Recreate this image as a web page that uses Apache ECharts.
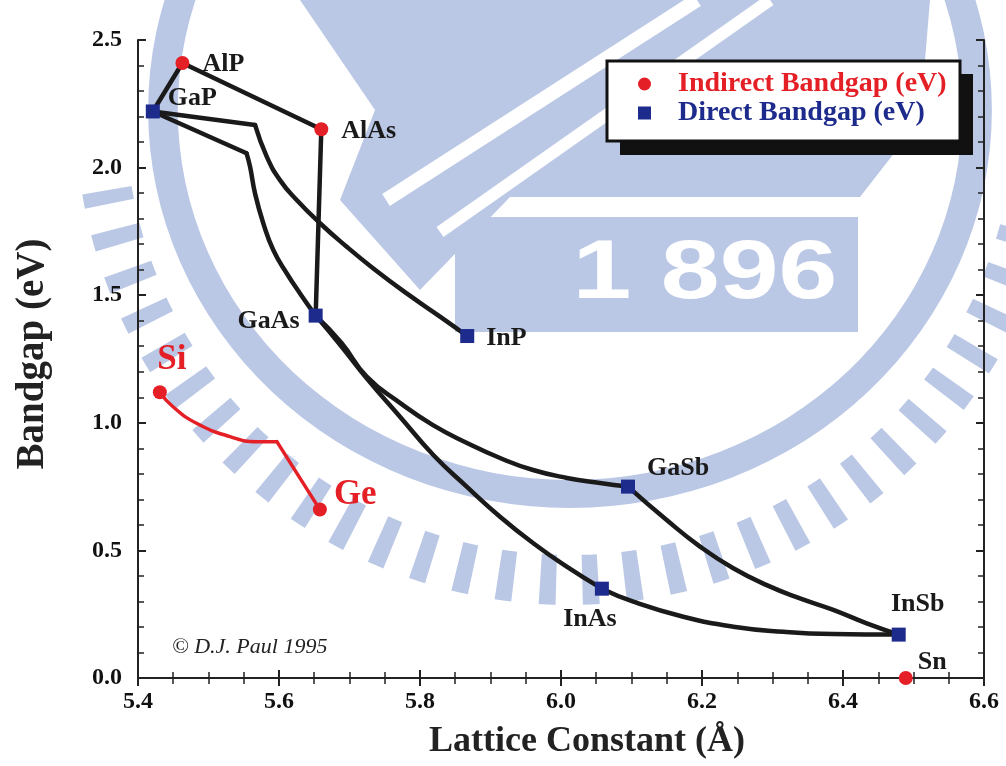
<!DOCTYPE html>
<html>
<head>
<meta charset="utf-8">
<title>Bandgap vs Lattice Constant</title>
<script src="https://cdn.jsdelivr.net/npm/echarts@6/dist/echarts.min.js"></script>
<style>
  html, body { margin: 0; padding: 0; background: #fff; }
  #chart { width: 1006px; height: 766px; }
</style>
</head>
<body>
<div id="chart"></div>
<script>
// materials
const materials = ['AlP', 'GaP', 'AlAs', 'GaAs', 'InP', 'Si', 'Ge', 'GaSb', 'InAs', 'InSb', 'Sn'];
const lattice   = [5.463, 5.421, 5.660, 5.652, 5.867, 5.431, 5.658, 6.095, 6.058, 6.479, 6.489];
const bandgap   = [2.41, 2.22, 2.15, 1.42, 1.34, 1.12, 0.66, 0.75, 0.35, 0.17, 0.00];
const gapType   = ['indirect', 'direct', 'indirect', 'direct', 'direct', 'indirect', 'indirect', 'direct', 'direct', 'direct', 'indirect'];

// alloy curves [lattice, bandgap]
const curveGaPAlP   = [[5.421, 2.22], [5.463, 2.41]];
const curveAlPAlAs  = [[5.463, 2.41], [5.660, 2.15]];
const curveAlAsGaAs = [[5.660, 2.15], [5.652, 1.42]];
const curveGaPInP1  = [[5.421, 2.22], [5.566, 2.167]];
const curveGaPInP2  = [[5.566, 2.167], [5.5826, 2.043], [5.6014, 1.951], [5.6251, 1.873], [5.6582, 1.782],
                       [5.696, 1.690], [5.7338, 1.605], [5.7811, 1.507], [5.8284, 1.416], [5.867, 1.34]];
const curveGaPGaAs1 = [[5.421, 2.22], [5.554, 2.056]];
const curveGaPGaAs2 = [[5.554, 2.056], [5.5589, 2.004], [5.566, 1.899], [5.5777, 1.782], [5.5919, 1.677],
                       [5.6109, 1.586], [5.6298, 1.507], [5.652, 1.42]];
const curveGaAsGaSb = [[5.652, 1.42], [5.6887, 1.313], [5.7244, 1.181], [5.7716, 1.078], [5.8184, 0.991],
                       [5.8667, 0.921], [5.9135, 0.862], [5.9603, 0.815], [6.0085, 0.784], [6.0553, 0.764], [6.095, 0.75]];
const curveGaAsInAs = [[5.652, 1.42], [5.6887, 1.299], [5.7244, 1.174], [5.7716, 1.024], [5.8189, 0.874],
                       [5.8662, 0.750], [5.9135, 0.632], [5.9607, 0.528], [6.0081, 0.436], [6.058, 0.35]];
const curveGaSbInSb = [[6.095, 0.75], [6.1499, 0.619], [6.1972, 0.515], [6.2444, 0.430], [6.2918, 0.364],
                       [6.339, 0.312], [6.3862, 0.267], [6.4336, 0.214], [6.479, 0.17]];
const curveInAsInSb = [[6.058, 0.35], [6.1026, 0.299], [6.1735, 0.240], [6.2444, 0.201], [6.3153, 0.181],
                       [6.3862, 0.172], [6.479, 0.17]];
const curveSiGe1    = [[5.431, 1.12], [5.4496, 1.063], [5.483, 0.998], [5.5305, 0.946], [5.568, 0.926], [5.597, 0.926]];
const curveSiGe2    = [[5.597, 0.926], [5.658, 0.66]];

const RED = '#e41f26';
const BLUE = '#1d2b8d';
const INK = '#1a1a1a';
const WM = '#bac8e6';
const SERIF = '"Liberation Serif", "Times New Roman", serif';

// label placement per material
const labelStyle = {
  AlP:  { position: 'right', offset: [8, 1] },
  GaP:  { position: 'right', offset: [3, -13] },
  AlAs: { position: 'right', offset: [8, 2] },
  GaAs: { position: 'left', offset: [-4, 6] },
  InP:  { position: 'right', offset: [7, 2] },
  Si:   { position: 'top', offset: [12, -3], color: RED, fontSize: 35 },
  Ge:   { position: 'right', offset: [2, -15], color: RED, fontSize: 35 },
  GaSb: { position: 'right', offset: [7, -18] },
  InAs: { position: 'bottom', offset: [-12, 6] },
  InSb: { position: 'top', offset: [19, -5] },
  Sn:   { position: 'right', offset: [0, -16] }
};

function points(type) {
  const out = [];
  materials.forEach((m, i) => {
    if (gapType[i] !== type) return;
    const ls = labelStyle[m];
    out.push({
      name: m,
      value: [lattice[i], bandgap[i]],
      label: {
        show: true,
        formatter: m,
        position: ls.position,
        offset: ls.offset,
        color: ls.color || INK,
        fontSize: ls.fontSize || 26
      }
    });
  });
  return out;
}

function curve(data, smooth, color, width) {
  return {
    type: 'line',
    data: data,
    smooth: smooth,
    showSymbol: false,
    symbol: 'none',
    silent: true,
    z: 3,
    lineStyle: { color: color || INK, width: width || 4.5, cap: 'round', join: 'round' }
  };
}

const chart = echarts.init(document.getElementById('chart'), null, { renderer: 'canvas' });

const tickCommon = {
  axisLine: { show: true, lineStyle: { color: '#222', width: 2 } },
  axisTick: { show: true, inside: true, length: 8, lineStyle: { color: '#222', width: 2 } },
  minorTick: { show: true, length: 6, lineStyle: { color: '#222', width: 1.5 } },
  splitLine: { show: false },
  minorSplitLine: { show: false }
};

const option = {
  backgroundColor: '#fff',
  animation: false,
  textStyle: { fontFamily: SERIF },
  grid: { left: 138, right: 22, top: 40, bottom: 88, containLabel: false, outerBoundsMode: 'none' },
  legend: {
    data: [
      { name: 'Indirect Bandgap (eV)', icon: 'circle', textStyle: { color: RED } },
      { name: 'Direct Bandgap (eV)', icon: 'rect', textStyle: { color: BLUE } }
    ],
    orient: 'vertical',
    left: 638,
    top: 70,
    padding: 0,
    itemWidth: 13,
    itemHeight: 13,
    itemGap: 1,
    z: 10,
    selectedMode: false,
    textStyle: { fontFamily: SERIF, fontWeight: 'bold', fontSize: 28, padding: [0, 0, 0, 22] }
  },
  xAxis: [
    Object.assign({
      type: 'value', min: 5.4, max: 6.6, interval: 0.2, position: 'bottom',
      name: 'Lattice Constant (Å)', nameLocation: 'middle', nameGap: 46,
      nameTextStyle: { fontFamily: SERIF, fontWeight: 'bold', fontSize: 36, color: '#222', padding: [0, 0, 0, 52] },
      axisLabel: { formatter: v => v.toFixed(1), margin: 12, fontFamily: SERIF, fontWeight: 'bold', fontSize: 24, color: '#111' }
    }, tickCommon, { minorTick: Object.assign({ splitNumber: 4 }, tickCommon.minorTick) }),
    Object.assign({
      type: 'value', min: 5.4, max: 6.6, interval: 0.2, position: 'top',
      axisLabel: { show: false }
    }, tickCommon, { minorTick: Object.assign({ splitNumber: 4 }, tickCommon.minorTick) })
  ],
  yAxis: [
    Object.assign({
      type: 'value', min: 0, max: 2.5, interval: 0.5, position: 'left',
      name: 'Bandgap (eV)', nameLocation: 'middle', nameGap: 86,
      nameTextStyle: { fontFamily: SERIF, fontWeight: 'bold', fontSize: 39, color: '#222', padding: [0, 0, 0, 10] },
      axisLabel: { formatter: v => v.toFixed(1), margin: 16, fontFamily: SERIF, fontWeight: 'bold', fontSize: 24, color: '#111' }
    }, tickCommon, { minorTick: Object.assign({ splitNumber: 5 }, tickCommon.minorTick) }),
    Object.assign({
      type: 'value', min: 0, max: 2.5, interval: 0.5, position: 'right',
      axisLabel: { show: false }
    }, tickCommon, { minorTick: Object.assign({ splitNumber: 5 }, tickCommon.minorTick) })
  ],
  graphic: [
    // faint watermark behind the plot
    {
      type: 'arc', silent: true, z: -5,
      shape: { cx: 570, cy: 110, r: 470, startAngle: 0.17, endAngle: 2.97, clockwise: true },
      style: { fill: null, stroke: WM, lineWidth: 50, lineDash: [16, 26] }
    },
    {
      type: 'group', x: 570, y: 110, scaleX: 1.06, scaleY: 1, silent: true, z: -5,
      children: [
        { type: 'ring', shape: { cx: 0, cy: 0, r: 398, r0: 370 }, style: { fill: WM }, z: -5 }
      ]
    },
    {
      type: 'polygon', silent: true, z: -5,
      shape: { points: [[300, 0], [930, 0], [920, 120], [860, 197], [510, 197], [420, 290], [340, 200], [375, 110]] },
      style: { fill: WM }
    },
    { type: 'line', silent: true, z: -4, shape: { x1: 386, y1: 200, x2: 697, y2: 0 }, style: { stroke: '#fff', lineWidth: 14 } },
    { type: 'line', silent: true, z: -4, shape: { x1: 440, y1: 232, x2: 770, y2: 0 }, style: { stroke: '#fff', lineWidth: 12 } },
    { type: 'rect', silent: true, z: -5, shape: { x: 455, y: 217, width: 403, height: 115 }, style: { fill: WM } },
    {
      type: 'text', silent: true, z: -4, x: 705, y: 275, scaleX: 1.26,
      style: { text: '1 896', fill: '#fff', font: 'bold 84px "Liberation Sans", Arial, sans-serif', align: 'center', verticalAlign: 'middle' }
    },
    // legend box with drop shadow
    { type: 'rect', z: 8, shape: { x: 620, y: 74, width: 353, height: 81 }, style: { fill: '#111' } },
    { type: 'rect', z: 9, shape: { x: 607, y: 61, width: 353, height: 80 }, style: { fill: '#fff', stroke: '#111', lineWidth: 3 } },
    // credit
    {
      type: 'text', z: 5, x: 172, y: 647,
      style: { text: '© D.J. Paul 1995', fill: '#222', font: 'italic 22px "Liberation Serif", serif', verticalAlign: 'middle' }
    }
  ],
  series: [
    curve(curveGaPAlP, false),
    curve(curveAlPAlAs, false),
    curve(curveAlAsGaAs, false),
    curve(curveGaPInP1, false),
    curve(curveGaPInP2, 0.5),
    curve(curveGaPGaAs1, false),
    curve(curveGaPGaAs2, 0.5),
    curve(curveGaAsGaSb, 0.5),
    curve(curveGaAsInAs, 0.5),
    curve(curveGaSbInSb, 0.5),
    curve(curveInAsInSb, 0.5),
    curve(curveSiGe1, 0.5, RED, 3.5),
    curve(curveSiGe2, false, RED, 3.5),
    {
      name: 'Indirect Bandgap (eV)',
      type: 'scatter',
      symbol: 'circle',
      symbolSize: 14,
      z: 6,
      itemStyle: { color: RED, opacity: 1 },
      label: { fontFamily: SERIF, fontWeight: 'bold', opacity: 1 },
      data: points('indirect')
    },
    {
      name: 'Direct Bandgap (eV)',
      type: 'scatter',
      symbol: 'rect',
      symbolSize: 14,
      z: 6,
      itemStyle: { color: BLUE, opacity: 1 },
      label: { fontFamily: SERIF, fontWeight: 'bold', opacity: 1 },
      data: points('direct')
    }
  ]
};

chart.setOption(option);
</script>
</body>
</html>
